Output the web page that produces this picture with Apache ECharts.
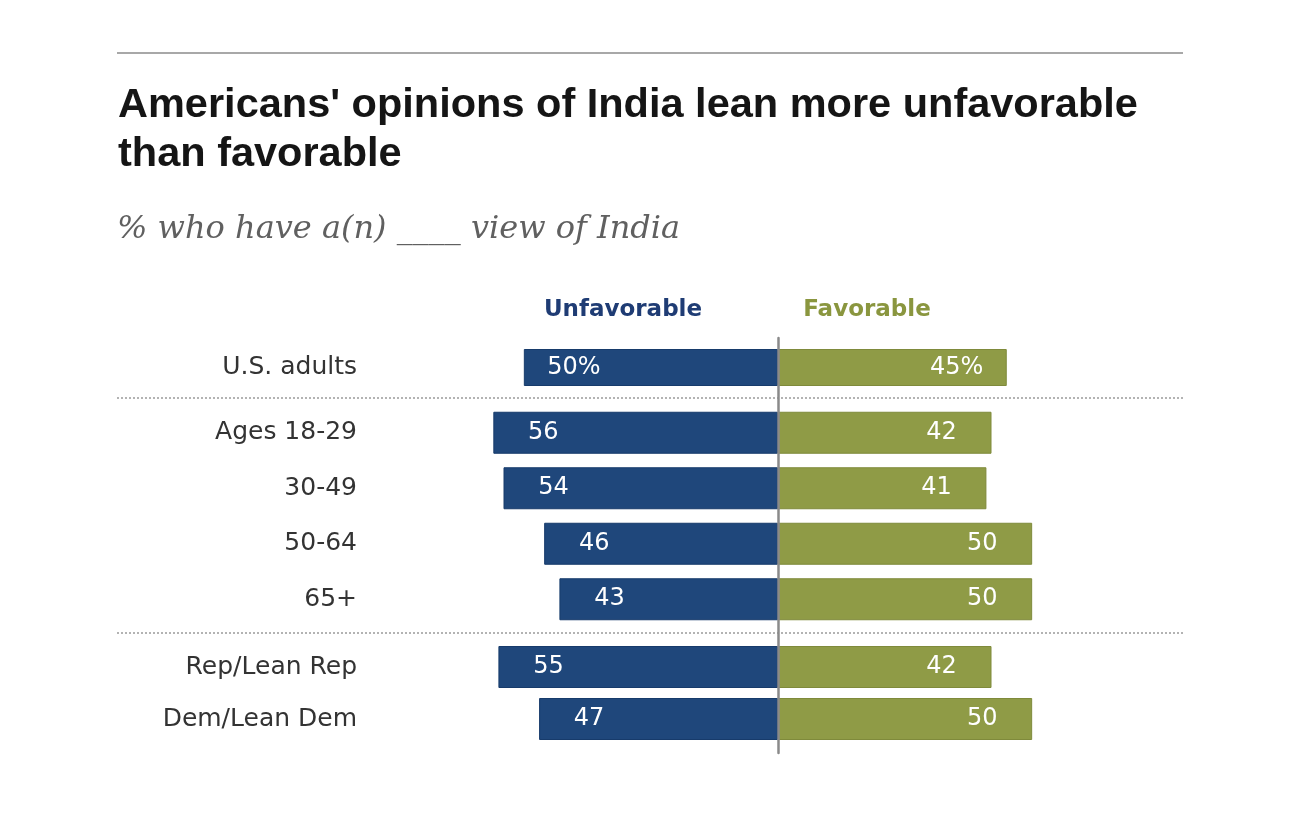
<!DOCTYPE html>
<html>
<head>
<meta charset="utf-8">
<title>Americans' opinions of India</title>
<script src="https://cdn.jsdelivr.net/npm/echarts@6/dist/echarts.min.js"></script>
<style>
  html, body { margin: 0; padding: 0; background: #fff; }
  #chart { width: 1300px; height: 813px; }
</style>
</head>
<body>
<div id="chart"></div>
<script>
// data
var categories  = ['U.S. adults', 'Ages 18-29', '30-49', '50-64', '65+', 'Rep/Lean Rep', 'Dem/Lean Dem'];
var unfavorable = [50, 56, 54, 46, 43, 55, 47];
var favorable   = [45, 42, 41, 50, 50, 42, 50];
var blockSizes  = [1, 4, 2];   // rows per block, blocks split by dotted rules

var BLUE = '#1f477b';
var OLIVE = '#8f9b46';
var LABEL_FONT = '"DejaVu Sans", Verdana, sans-serif';

// pixel boxes of each block (top, height, bar thickness)
var blockBoxes = [
    {top: 340, height: 55,  bar: 37},
    {top: 405, height: 222, bar: 42},
    {top: 641, height: 104, bar: 42}
];
var plotLeft = 473, plotWidth = 610;

var grids = [], xAxes = [], yAxes = [], series = [];
var start = 0;
blockSizes.forEach(function (n, b) {
    var cats = categories.slice(start, start + n);
    var unf = unfavorable.slice(start, start + n);
    var fav = favorable.slice(start, start + n);
    var first = start;
    start += n;

    grids.push({left: plotLeft, width: plotWidth, top: blockBoxes[b].top, height: blockBoxes[b].height});
    xAxes.push({gridIndex: b, type: 'value', min: -60, max: 60, show: false});
    yAxes.push({
        gridIndex: b,
        type: 'category',
        inverse: true,
        data: cats,
        axisLine: {show: false},
        axisTick: {show: false},
        axisLabel: {
            margin: plotLeft - 357,
            fontFamily: LABEL_FONT,
            fontSize: 25,
            color: '#333'
        }
    });

    var fmt = function (p) {
        var v = Math.abs(p.value);
        return (first + p.dataIndex === 0) ? v + '%' : String(v);
    };
    var lbl = {
        show: true,
        color: '#fff',
        fontFamily: LABEL_FONT,
        fontSize: 24,
        align: 'center',
        formatter: fmt
    };

    series.push({
        name: 'Unfavorable',
        type: 'bar',
        xAxisIndex: b,
        yAxisIndex: b,
        barWidth: blockBoxes[b].bar,
        barGap: '-100%',
        data: unf.map(function (v) { return -v; }),
        itemStyle: {color: BLUE, borderColor: '#173b6b', borderWidth: 1},
        label: Object.assign({position: 'insideLeft', offset: [45, 0]}, lbl)
    });
    series.push({
        name: 'Favorable',
        type: 'bar',
        xAxisIndex: b,
        yAxisIndex: b,
        barWidth: blockBoxes[b].bar,
        barGap: '-100%',
        data: fav,
        itemStyle: {color: OLIVE, borderColor: '#7f8a3b', borderWidth: 1},
        label: Object.assign({position: 'insideRight', offset: [-45, 0]}, lbl)
    });
});

// extra grid only to draw the zero line through all blocks
grids.push({left: plotLeft, width: plotWidth, top: 338, height: 415});
xAxes.push({gridIndex: 3, type: 'value', min: -60, max: 60, show: false});
yAxes.push({
    gridIndex: 3,
    type: 'value',
    min: 0,
    max: 1,
    z: 10,
    axisLine: {show: true, onZero: true, lineStyle: {color: '#8a8a8a', width: 2.5}},
    axisTick: {show: false},
    axisLabel: {show: false},
    splitLine: {show: false}
});

function dottedRule(y) {
    return {
        type: 'line',
        shape: {x1: 117, y1: y, x2: 1183, y2: y},
        style: {stroke: '#9a9a9a', lineWidth: 1.5, lineDash: [2, 2]},
        silent: true
    };
}

var option = {
    animation: false,
    backgroundColor: '#fff',
    title: [
        {
            text: "Americans' opinions of India lean more unfavorable\nthan favorable",
            left: 113,
            top: 76,
            textStyle: {
                fontFamily: '"Liberation Sans", Arial, sans-serif',
                fontWeight: 'bold',
                fontSize: 41.5,
                lineHeight: 49,
                color: '#151515'
            }
        },
        {
            text: '% who have a(n) ____ view of India',
            left: 112,
            top: 206,
            textStyle: {
                fontFamily: '"DejaVu Serif", Georgia, serif',
                fontStyle: 'italic',
                fontWeight: 'normal',
                fontSize: 32,
                lineHeight: 38,
                color: '#606060'
            }
        },
        {
            text: 'Unfavorable',
            left: 618,
            top: 294,
            textAlign: 'center',
            textStyle: {fontFamily: LABEL_FONT, fontWeight: 'bold', fontSize: 23, color: '#1f3c74'}
        },
        {
            text: 'Favorable',
            left: 862,
            top: 294,
            textAlign: 'center',
            textStyle: {fontFamily: LABEL_FONT, fontWeight: 'bold', fontSize: 23, color: '#8a963f'}
        }
    ],
    graphic: [
        {
            type: 'line',
            shape: {x1: 117, y1: 53, x2: 1183, y2: 53},
            style: {stroke: '#a8a8a8', lineWidth: 2},
            silent: true
        },
        dottedRule(398),
        dottedRule(633)
    ],
    grid: grids,
    xAxis: xAxes,
    yAxis: yAxes,
    series: series
};

var chart = echarts.init(document.getElementById('chart'));
chart.setOption(option);
</script>
</body>
</html>
